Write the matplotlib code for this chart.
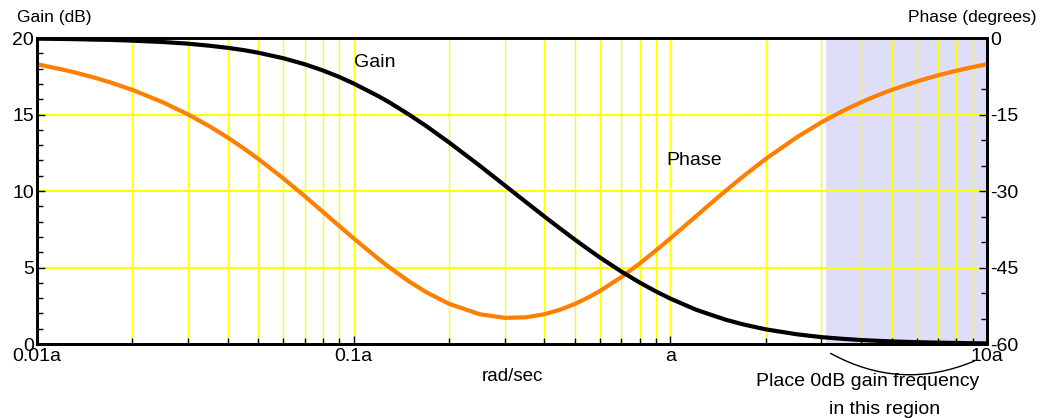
import numpy as np
import matplotlib
matplotlib.use('Agg')
from matplotlib import pyplot as plt
from matplotlib.ticker import FixedLocator, NullFormatter

plt.rcParams['font.family'] = ['Liberation Sans', 'DejaVu Sans']
plt.rcParams['axes.unicode_minus'] = False

# frequencies in units of a (rad/sec)
freq = [0.01, 0.012, 0.013, 0.015, 0.017, 0.02, 0.025, 0.03, 0.035, 0.04, 0.045,
        0.05, 0.06, 0.07, 0.08, 0.09, 0.1, 0.12, 0.13, 0.15, 0.17, 0.2, 0.25,
        0.3, 0.35, 0.4, 0.45, 0.5, 0.55, 0.6, 0.7, 0.8, 0.9, 1.0, 1.2, 1.3,
        1.5, 1.7, 2.0, 2.5, 3.0, 3.5, 4.0, 4.5, 5.0, 6.0, 7.0, 8.0, 9.0, 10.0]
gain_db = [19.96, 19.94, 19.93, 19.90, 19.88, 19.83, 19.74, 19.63, 19.50, 19.36, 19.21,
           19.04, 18.68, 18.29, 17.88, 17.46, 17.03, 16.19, 15.78, 14.98, 14.23, 13.18, 11.66,
           10.37, 9.28, 8.34, 7.53, 6.82, 6.20, 5.65, 4.74, 4.02, 3.44, 2.97, 2.26, 2.01,
           1.58, 1.28, 0.96, 0.64, 0.45, 0.34, 0.26, 0.21, 0.17, 0.12, 0.09, 0.07, 0.05, 0.04]
phase_deg = [-5.14, -6.16, -6.66, -7.67, -8.67, -10.16, -12.61, -14.98, -17.28, -19.51, -21.65,
             -23.71, -27.53, -30.99, -34.09, -36.85, -39.29, -43.35, -45.02, -47.78, -49.88, -52.12, -54.16,
             -54.87, -54.76, -54.16, -53.24, -52.13, -50.89, -49.58, -46.88, -44.22, -41.67, -39.29, -35.05, -33.17,
             -29.88, -27.10, -23.71, -19.51, -16.52, -14.31, -12.61, -11.26, -10.16, -8.51, -7.31, -6.41, -5.70, -5.14]

xtick_pos = [0.01, 0.1, 1.0, 10.0]
xtick_labels = ['0.01a', '0.1a', 'a', '10a']
gain_ticks = [0, 5, 10, 15, 20]
phase_ticks = [-60, -45, -30, -15, 0]
region = (3.1, 10.0)

fig = plt.figure(figsize=(10.44, 4.18), dpi=100)
ax = fig.add_axes([0.0354, 0.177, 0.91, 0.732])
ax.set_xscale('log')
ax.set_xlim(0.01, 10)
ax.set_ylim(0, 20)

ax2 = ax.twinx()
ax2.set_ylim(-60, 0)

# shaded region and yellow grid live on the lower axes
ax2.axvspan(region[0], region[1], color='#dedef9', zorder=0, lw=0)
minors = [m * d for d in (0.01, 0.1, 1.0) for m in range(2, 10)]
for x in minors + xtick_pos[1:3]:
    ax2.axvline(x, color='#ffff00', lw=1, zorder=1)
for y in (-45, -30, -15):
    ax2.axhline(y, color='#ffff00', lw=1.5, zorder=1)

ax2.plot(freq, phase_deg, color='#ff8000', lw=3, zorder=3)
ax.plot(freq, gain_db, color='black', lw=3, zorder=4)

ax.set_xticks(xtick_pos)
ax.set_xticklabels(xtick_labels)
ax.xaxis.set_minor_locator(FixedLocator(minors))
ax.xaxis.set_minor_formatter(NullFormatter())
ax.set_yticks(gain_ticks)
ax.yaxis.set_minor_locator(FixedLocator(range(0, 21)))
ax.tick_params(axis='both', which='both', direction='in', width=1)
ax.tick_params(axis='both', which='major', length=6, labelsize=14)
ax.tick_params(axis='both', which='minor', length=4)
ax.tick_params(axis='x', pad=3)
ax.tick_params(axis='y', pad=2)
for s in ax.spines.values():
    s.set_linewidth(2)

ax2.set_yticks(phase_ticks)
ax2.yaxis.set_minor_locator(FixedLocator(range(-60, 1, 5)))
ax2.tick_params(axis='y', which='both', direction='in', width=1, pad=2)
ax2.tick_params(axis='y', which='major', length=6, labelsize=14)
ax2.tick_params(axis='y', which='minor', length=4)
for s in ax2.spines.values():
    s.set_linewidth(2)
ax.set_zorder(ax2.get_zorder() + 1)
ax.patch.set_visible(False)

ax.text(0.1, 18.4, 'Gain', fontsize=14, va='center')
ax.text(0.975, 12.0, 'Phase', fontsize=14, va='center')

fig.text(0.016, 0.957, 'Gain (dB)', fontsize=12.5, va='center', ha='left')
fig.text(0.993, 0.957, 'Phase (degrees)', fontsize=12.5, va='center', ha='right')
fig.text(0.491, 0.100, 'rad/sec', fontsize=13.5, va='center', ha='center')

ax.annotate('', xy=(9.3, -0.052), xycoords=('data', 'axes fraction'),
            xytext=(3.15, -0.026), textcoords=('data', 'axes fraction'),
            arrowprops=dict(arrowstyle='-', lw=1, color='black',
                            connectionstyle='arc3,rad=0.25'),
            annotation_clip=False)
fig.text(0.831, 0.088, 'Place 0dB gain frequency', fontsize=14, va='center', ha='center')
fig.text(0.847, 0.021, 'in this region', fontsize=14, va='center', ha='center')

fig.savefig('out.png', dpi=100)
